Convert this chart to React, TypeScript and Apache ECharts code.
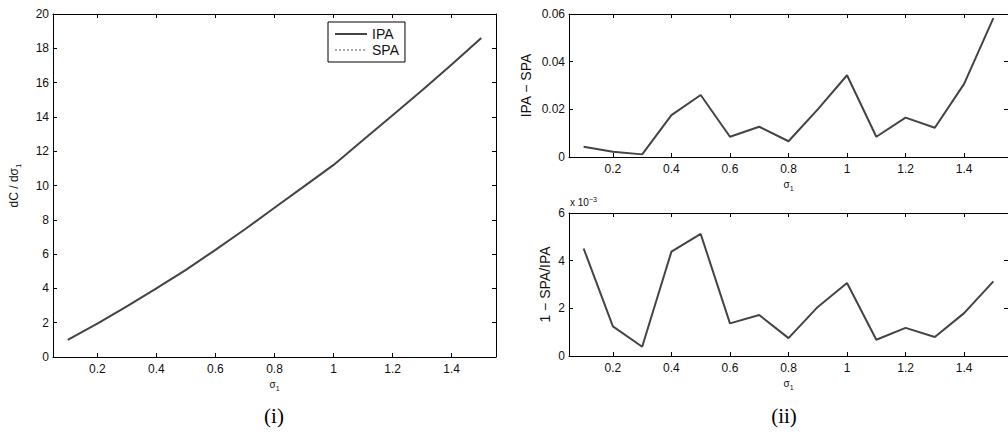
import React, { useEffect, useRef } from "react";
import * as echarts from "echarts";

// ---- data ----
const sigma1 = [0.1, 0.2, 0.3, 0.4, 0.5, 0.6, 0.7, 0.8, 0.9, 1.0, 1.1, 1.2, 1.3, 1.4, 1.5];
const ipaValues = [1.0, 1.95, 2.95, 4.0, 5.08, 6.25, 7.45, 8.7, 9.95, 11.2, 12.65, 14.1, 15.55, 17.05, 18.6];
const ipaMinusSpa = [0.0043, 0.0022, 0.0011, 0.0176, 0.026, 0.0085, 0.0127, 0.0066, 0.02, 0.0343, 0.0085, 0.0165, 0.0123, 0.0307, 0.0583];
// 1 - SPA/IPA, in units of 10^-3
const oneMinusRatio = [4.51, 1.24, 0.39, 4.38, 5.12, 1.37, 1.72, 0.75, 2.06, 3.06, 0.68, 1.18, 0.8, 1.8, 3.13];
const spaValues = ipaValues.map((v, i) => +(v - ipaMinusSpa[i]).toFixed(4));
const xTicks = [0.2, 0.4, 0.6, 0.8, 1, 1.2, 1.4];
const legendNames = ["IPA", "SPA"];

const pairs = (ys: number[]) => sigma1.map((x, i) => [x, ys[i]]);

const FONT = "Liberation Sans, Arial, Helvetica, sans-serif";
const LINE = "#444";

export default function App() {
  const ref = useRef<HTMLDivElement>(null);
  useEffect(() => {
    if (!ref.current) return;
    const chart = echarts.init(ref.current, undefined, { renderer: "svg" });

    const grids = [
      { left: 53, top: 14, width: 443, height: 343 },
      { left: 569, top: 14, width: 442, height: 143 },
      { left: 569, top: 213, width: 442, height: 143 },
    ];
    const yCfg = [
      { min: 0, max: 20, interval: 2, name: "dC / dσ{sub|1}", nameGap: 31, nameSize: 12 },
      { min: 0, max: 0.06, interval: 0.02, name: "IPA − SPA", nameGap: 36, nameSize: 14 },
      { min: 0, max: 6, interval: 2, name: "1 − SPA/IPA", nameGap: 17, nameSize: 14 },
    ];

    const axisLine = { show: true, onZero: false, lineStyle: { color: "#000", width: 1 } };
    const tick = { show: true, inside: true, length: 4, lineStyle: { color: "#000" } };
    const labelStyle = { color: "#111", fontFamily: FONT, fontSize: 12 };
    const subRich = {
      sub: { fontSize: 7, verticalAlign: "bottom", padding: [8, 0, 0, 0], fontFamily: FONT, color: "#111" },
    };

    const xAxis: any[] = [];
    const yAxis: any[] = [];
    grids.forEach((g, i) => {
      xAxis.push({
        type: "value",
        gridIndex: i,
        position: "bottom",
        min: 0.05,
        max: 1.55,
        axisLine,
        axisTick: { ...tick, customValues: xTicks },
        axisLabel: { ...labelStyle, margin: 6, customValues: xTicks, formatter: (v: number) => String(v) },
        splitLine: { show: false },
        name: "σ{sub|1}",
        nameLocation: "middle",
        nameGap: 20,
        nameTextStyle: { fontFamily: FONT, fontSize: 10, color: "#111", rich: subRich },
      });
      xAxis.push({
        type: "value",
        gridIndex: i,
        position: "top",
        min: 0.05,
        max: 1.55,
        axisLine,
        axisTick: { ...tick, customValues: xTicks },
        axisLabel: { show: false },
        splitLine: { show: false },
      });
      const y = yCfg[i];
      yAxis.push({
        type: "value",
        gridIndex: i,
        position: "left",
        min: y.min,
        max: y.max,
        interval: y.interval,
        axisLine,
        axisTick: tick,
        axisLabel: { ...labelStyle, margin: 4 },
        splitLine: { show: false },
        name: y.name,
        nameLocation: "middle",
        nameGap: y.nameGap,
        nameTextStyle: {
          fontFamily: FONT,
          fontSize: y.nameSize,
          color: "#111",
          rich: { sub: { fontSize: 8, fontFamily: FONT, color: "#111", verticalAlign: "bottom", padding: [9, 0, 0, 0] } },
        },
      });
      yAxis.push({
        type: "value",
        gridIndex: i,
        position: "right",
        min: y.min,
        max: y.max,
        interval: y.interval,
        axisLine,
        axisTick: tick,
        axisLabel: { show: false },
        splitLine: { show: false },
      });
    });

    const option: any = {
      animation: false,
      backgroundColor: "#fff",
      grid: grids,
      xAxis,
      yAxis,
      legend: {
        data: legendNames,
        left: 328,
        top: 22,
        orient: "vertical",
        selectedMode: false,
        borderColor: "#000",
        borderWidth: 1,
        padding: [5, 6, 5, 6],
        itemGap: 2,
        itemWidth: 32,
        itemHeight: 14,
        itemStyle: { opacity: 0 },
        textStyle: { fontFamily: FONT, fontSize: 14, color: "#111" },
        backgroundColor: "#fff",
      },
      series: [
        {
          name: "SPA",
          type: "line",
          xAxisIndex: 0,
          yAxisIndex: 0,
          data: pairs(spaValues),
          symbol: "none",
          lineStyle: { color: "#aaa", width: 1, type: "dotted" },
          itemStyle: { color: "#aaa" },
          z: 2,
        },
        {
          name: "IPA",
          type: "line",
          xAxisIndex: 0,
          yAxisIndex: 0,
          data: pairs(ipaValues),
          symbol: "none",
          lineStyle: { color: LINE, width: 2 },
          itemStyle: { color: LINE },
          z: 3,
        },
        {
          name: "IPA − SPA",
          type: "line",
          xAxisIndex: 2,
          yAxisIndex: 2,
          data: pairs(ipaMinusSpa),
          symbol: "none",
          lineStyle: { color: LINE, width: 2 },
          itemStyle: { color: LINE },
        },
        {
          name: "1 − SPA/IPA",
          type: "line",
          xAxisIndex: 4,
          yAxisIndex: 4,
          data: pairs(oneMinusRatio),
          symbol: "none",
          lineStyle: { color: LINE, width: 2 },
          itemStyle: { color: LINE },
        },
      ],
      graphic: [
        {
          type: "text",
          left: 570,
          top: 196,
          style: {
            text: "x 10{sup|−3}",
            fontFamily: FONT,
            fontSize: 10,
            fill: "#111",
            rich: { sup: { fontSize: 7, fontFamily: FONT, fill: "#111", verticalAlign: "top", padding: [0, 0, 6, 0] } },
          },
        },
        {
          type: "text",
          x: 274,
          y: 416,
          style: { text: "(i)", fontFamily: "Liberation Serif, DejaVu Serif, serif", fontSize: 21, fill: "#000", align: "center", verticalAlign: "middle" },
        },
        {
          type: "text",
          x: 784,
          y: 416,
          style: { text: "(ii)", fontFamily: "Liberation Serif, DejaVu Serif, serif", fontSize: 21, fill: "#000", align: "center", verticalAlign: "middle" },
        },
      ],
    };
    chart.setOption(option);
    return () => chart.dispose();
  }, []);
  return <div ref={ref} style={{ position: "absolute", left: 0, top: 0, width: 1008, height: 440, overflow: "hidden" }} />;
}
